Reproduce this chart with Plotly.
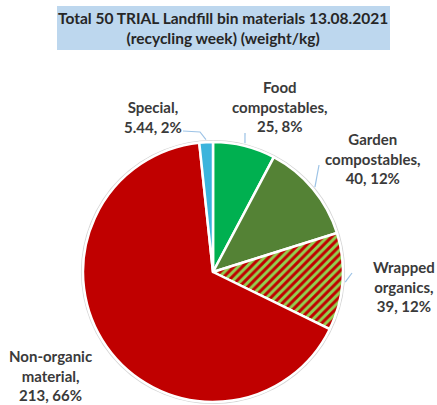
import math
import plotly.graph_objects as go

# Landfill bin audit, recycling week, weights in kg
categories = ["Food<br>compostables", "Garden<br>compostables", "Wrapped<br>organics",
              "Non-organic<br>material", "Special"]
weights_kg = [25, 40, 39, 213, 5.44]
slice_colors = ["#00B050", "#548235", "#92D050", "#C00000", "#3BB4DC"]
stripe_shapes = ["", "", "/", "", ""]
stripe_colors = ["#00B050", "#548235", "#C00000", "#C00000", "#3BB4DC"]
title_lines = ["Total 50 TRIAL Landfill bin materials 13.08.2021", "(recycling week) (weight/kg)"]

W, H = 437, 405
pie_domain = dict(x=[83 / W, 343 / W], y=[1 - 402 / H, 1 - 142 / H])

# label block centres (px) and leader-line tail points (px)
label_centres = [(280, 107), (373, 158), (404, 286), (50, 375), (153, 117)]
leader_tails = [[(245, 133)], [(319, 165)], [(352, 273)], None, [(183, 131), (200, 132)]]

total = sum(weights_kg)

fig = go.Figure(go.Pie(
    labels=categories,
    values=weights_kg,
    sort=False,
    direction="clockwise",
    rotation=0,
    domain=pie_domain,
    textinfo="none",
    hoverinfo="skip",
    marker=dict(
        colors=slice_colors,
        line=dict(color="white", width=2.5),
        pattern=dict(shape=stripe_shapes, fgcolor=stripe_colors, bgcolor=slice_colors,
                     size=6, solidity=0.5, fillmode="replace"),
    ),
    showlegend=False,
))

def px2paper(x, y):
    return x / W, 1 - y / H

# pie geometry in pixels, derived from the domain
dx0, dx1 = pie_domain["x"][0] * W, pie_domain["x"][1] * W
dy0, dy1 = (1 - pie_domain["y"][1]) * H, (1 - pie_domain["y"][0]) * H
cx, cy = (dx0 + dx1) / 2, (dy0 + dy1) / 2
R = min(dx1 - dx0, dy1 - dy0) / 2

shapes = []
# faint outer rim
x0, y0 = px2paper(cx - R - 1.5, cy - R - 1.5)
x1, y1 = px2paper(cx + R + 1.5, cy + R + 1.5)
shapes.append(dict(type="circle", xref="paper", yref="paper", x0=x0, y0=y1, x1=x1, y1=y0,
                   line=dict(color="#D6D6D6", width=1.2), layer="below"))

# title box
bx0, by0 = px2paper(57, 50)
bx1, by1 = px2paper(390, 6)
shapes.append(dict(type="rect", xref="paper", yref="paper", x0=bx0, y0=by0, x1=bx1, y1=by1,
                   fillcolor="#BDD7EE", line=dict(width=0), layer="below"))

annotations = []
cum = 0.0
for name, v, centre, tail in zip(categories, weights_kg, label_centres, leader_tails):
    mid = (cum + v / 2) / total * 2 * math.pi
    cum += v
    pct = round(v / total * 100)
    text = f"<b>{name},<br>{v:g}, {pct}%</b>"
    lx, ly = px2paper(*centre)
    annotations.append(dict(text=text, x=lx, y=ly, xref="paper", yref="paper",
                            xanchor="center", yanchor="middle", showarrow=False,
                            font=dict(family="Lato", size=15, color="#3A3A3A")))
    if tail:
        hx = cx + R * 1.02 * math.sin(mid)
        hy = cy - R * 1.02 * math.cos(mid)
        pts = [px2paper(*p) for p in tail] + [px2paper(hx, hy)]
        path = "M " + " L ".join(f"{a:.5f},{b:.5f}" for a, b in pts)
        shapes.append(dict(type="path", xref="paper", yref="paper", path=path,
                           line=dict(color="#9DC3E6", width=1.2)))

tx, ty = px2paper(223, 28)
annotations.append(dict(text="<b>" + "<br>".join(title_lines) + "</b>", x=tx, y=ty,
                        xref="paper", yref="paper", xanchor="center", yanchor="middle",
                        showarrow=False,
                        font=dict(family="Lato", size=15.5, color="#262626")))

fig.update_layout(
    width=W, height=H,
    margin=dict(l=0, r=0, t=0, b=0),
    paper_bgcolor="white",
    plot_bgcolor="white",
    shapes=shapes,
    annotations=annotations,
)

fig.write_html("out.html")
